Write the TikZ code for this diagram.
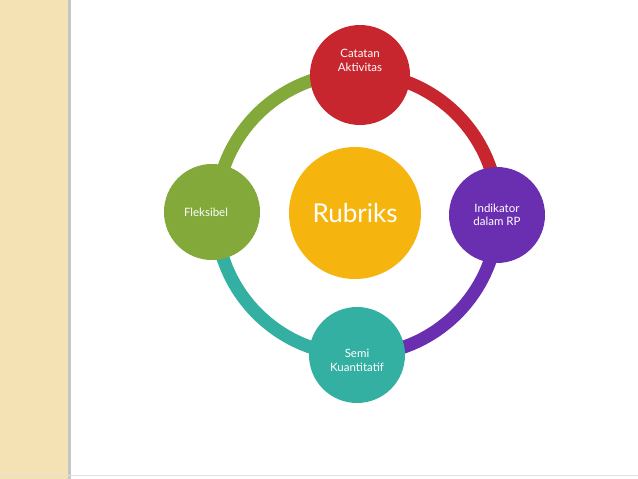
\documentclass[tikz,border=0pt]{standalone}
\usepackage{fontspec}
\setmainfont{Lato}
\begin{document}
\begin{tikzpicture}[x=1pt,y=-1pt,
 sat/.style={circle,minimum size=98pt,inner sep=0pt,align=center,text=white,font=\fontsize{11.5}{13.5}\selectfont},
 ring/.style={line width=13pt}]
\definecolor{cr}{HTML}{C8262F}\definecolor{cp}{HTML}{6A2EB0}
\definecolor{ct}{HTML}{33B0A2}\definecolor{cg}{HTML}{82A93A}
\definecolor{co}{HTML}{F6B40E}\definecolor{bg}{HTML}{F4E2B4}
\fill[white] (0,0) rectangle (638,479);
\useasboundingbox (0,0) rectangle (638,479);
\fill[bg] (0,0) rectangle (68,479);
\fill[gray!45] (68,0) rectangle (71,479);
\draw[gray!25,line width=0.8pt] (0,475) -- (638,475);
\coordinate (c) at (357,214);
\draw[ring,cr] (c) ++(0:141) arc[start angle=0,end angle=-90,radius=141];
\draw[ring,cp] (c) ++(0:141) arc[start angle=0,end angle=90,radius=141];
\draw[ring,ct] (c) ++(90:141) arc[start angle=90,end angle=180,radius=141];
\draw[ring,cg] (c) ++(180:141) arc[start angle=180,end angle=270,radius=141];
\node[sat,fill=co,minimum size=132pt,font=\fontsize{26}{28}\selectfont] (m) at (355,213) {Rubriks};
\node[sat,fill=cr,minimum size=100pt] (t) at (360,75) {Catatan\\Aktivitas\\[16pt]};
\node[sat,fill=cp,minimum size=96pt] (r) at (497,215) {Indikator\\dalam RP};
\node[sat,fill=ct,minimum size=96pt] (b) at (357,355) {\\[6pt]Semi\\Kuantitatif};
\node[sat,fill=cg,minimum size=96pt] (l) at (212,212) {\hspace*{-12pt}Fleksibel};
\end{tikzpicture}
\end{document}
